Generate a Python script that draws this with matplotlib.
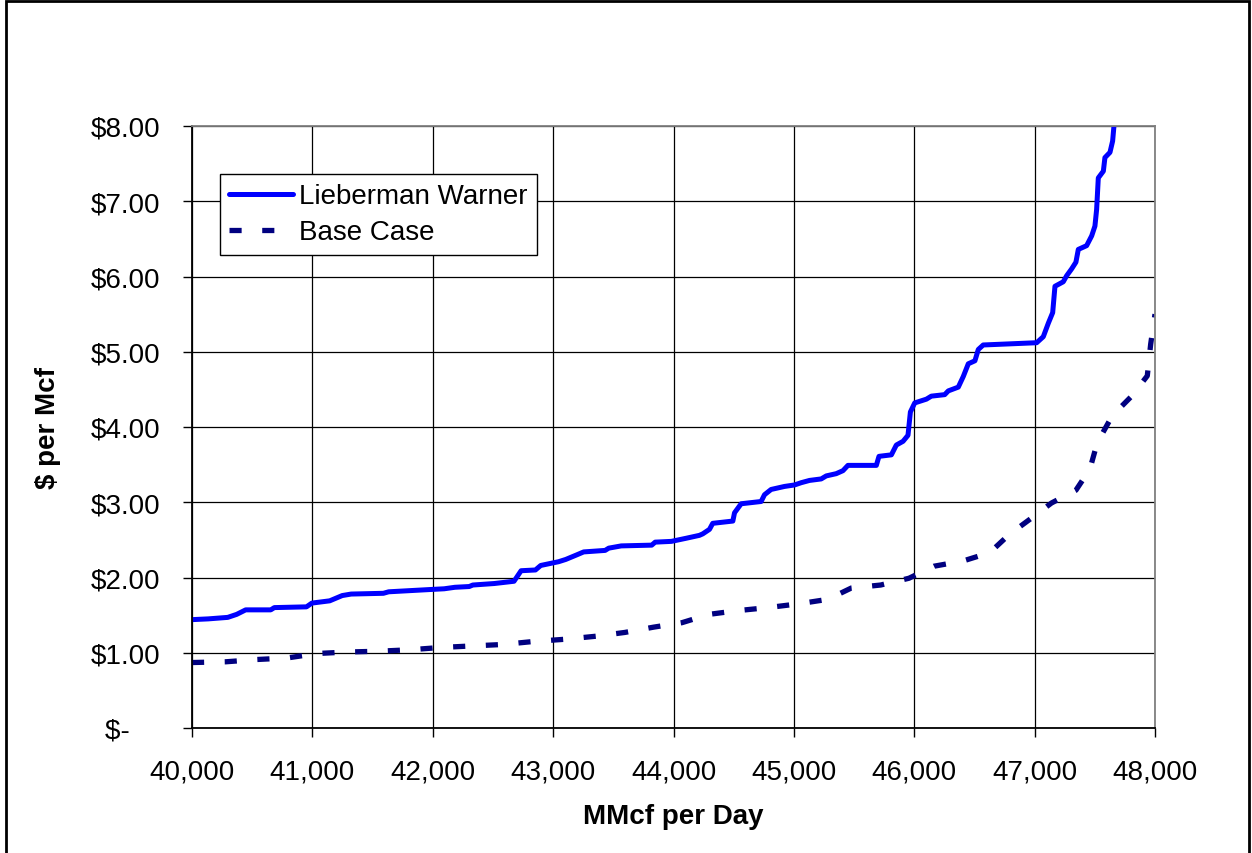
import numpy as np
import matplotlib.pyplot as plt
from matplotlib.patches import Rectangle
from matplotlib.ticker import FuncFormatter
plt.rcParams['font.family'] = ['Liberation Sans', 'DejaVu Sans']

# Lieberman Warner curve (MMcf per day, $ per Mcf)
lw_x = [40000, 40134, 40297, 40371, 40446, 40654, 40684, 40951, 40996, 41144,
        41248, 41322, 41590, 41634, 41976, 42095, 42184, 42303, 42333, 42511,
        42675, 42734, 42853, 42897, 43046, 43105, 43195, 43254, 43432, 43462,
        43566, 43819, 43848, 43982, 44101, 44215, 44243, 44299, 44326, 44493,
        44507, 44562, 44728, 44756, 44811, 44922, 45006, 45061, 45130, 45227,
        45269, 45352, 45408, 45449, 45685, 45707, 45810, 45851, 45907, 45948,
        45968, 46004, 46101, 46142, 46253, 46283, 46366, 46407, 46449, 46504,
        46532, 46573, 47017, 47072, 47114, 47150, 47169, 47238, 47266, 47307,
        47343, 47363, 47432, 47474, 47501, 47515, 47529, 47571, 47584, 47626,
        47648, 47659, 47672]
lw_y = [1.44, 1.45, 1.47, 1.51, 1.57, 1.57, 1.60, 1.61, 1.66, 1.69,
        1.76, 1.78, 1.79, 1.81, 1.84, 1.85, 1.87, 1.88, 1.90, 1.92,
        1.95, 2.09, 2.10, 2.16, 2.21, 2.24, 2.30, 2.34, 2.36, 2.39,
        2.42, 2.43, 2.47, 2.48, 2.52, 2.56, 2.58, 2.64, 2.72, 2.75,
        2.86, 2.98, 3.01, 3.10, 3.17, 3.21, 3.23, 3.26, 3.29, 3.31,
        3.35, 3.38, 3.42, 3.49, 3.49, 3.61, 3.63, 3.76, 3.81, 3.89,
        4.20, 4.32, 4.37, 4.41, 4.43, 4.48, 4.53, 4.67, 4.84, 4.88,
        5.03, 5.09, 5.12, 5.20, 5.38, 5.52, 5.87, 5.93, 6.01, 6.10,
        6.19, 6.36, 6.41, 6.54, 6.67, 6.89, 7.31, 7.40, 7.58, 7.65,
        7.80, 8.00, 8.30]

# Base Case curve
bc_x = [40000, 40282, 40535, 40788, 41040, 41293, 41545, 41813, 42065, 42318,
        42585, 42838, 43105, 43358, 43596, 43834, 44071, 44294, 44534, 44784,
        45039, 45283, 45477, 45721, 45956, 46164, 46406, 46627, 46788, 46966,
        47140, 47343, 47459, 47520, 47645, 47806, 47936, 47964, 48000]
bc_y = [0.87, 0.88, 0.91, 0.93, 0.99, 1.01, 1.02, 1.04, 1.07, 1.09,
        1.11, 1.15, 1.18, 1.22, 1.27, 1.34, 1.40, 1.51, 1.56, 1.60,
        1.65, 1.71, 1.86, 1.90, 1.99, 2.15, 2.22, 2.33, 2.57, 2.78,
        2.99, 3.16, 3.44, 3.79, 4.15, 4.41, 4.68, 5.10, 5.50]

x_ticks = np.arange(40000, 48001, 1000)
y_ticks = np.arange(0, 9, 1)

W, H = 1252, 854
fig = plt.figure(figsize=(W / 100, H / 100), dpi=100)
# chart area border (left, top, right edges visible)
fig.add_artist(Rectangle((6 / W, -0.05), (1249 - 6) / W, 1.05 - 1.5 / H,
                         transform=fig.transFigure, fill=False,
                         edgecolor='black', linewidth=2, clip_on=False))
ax = fig.add_axes([192 / W, 1 - 729 / H, (1155 - 192) / W, (729 - 127) / H])

ax.plot(lw_x, lw_y, color='#0000FF', linewidth=3.6, label='Lieberman Warner',
        solid_joinstyle='round', solid_capstyle='round')
ax.plot(bc_x, bc_y, color='#000080', linewidth=3.8, label='Base Case',
        linestyle=(0, (2.3, 3.9)), dash_capstyle='butt')

ax.set_xlim(40000, 48000)
ax.set_ylim(0, 8)
ax.set_xticks(x_ticks)
ax.set_yticks(y_ticks)
ax.xaxis.set_major_formatter(FuncFormatter(lambda v, p: f'{int(v):,}'))
ax.yaxis.set_major_formatter(
    FuncFormatter(lambda v, p: '$-\u2007\u2007' if v == 0 else f'${v:.2f}'))
ax.tick_params(axis='both', direction='out', length=6.5, width=1,
               labelsize=20, color='black')
ax.tick_params(axis='x', pad=15.5)
ax.tick_params(axis='y', pad=16.5)

ax.grid(True, color='black', linewidth=0.9)
ax.set_axisbelow(True)
for s in ['top', 'right']:
    ax.spines[s].set_color('#808080')
    ax.spines[s].set_linewidth(1.3)
for s in ['left', 'bottom']:
    ax.spines[s].set_color('black')
    ax.spines[s].set_linewidth(1.3)

ax.set_xlabel('MMcf per Day', fontsize=20, fontweight='bold')
ax.set_ylabel('$ per Mcf', fontsize=20, fontweight='bold')
ax.xaxis.set_label_coords(0.5, (729 - 804) / (729 - 127))
ax.yaxis.set_label_coords((61 - 192) / (1155 - 192), 0.5)

leg = ax.legend(loc='upper left', bbox_to_anchor=(28 / 963, (729 - 175) / 602),
                borderaxespad=0, fontsize=20, handlelength=2.3,
                handletextpad=0.22, labelspacing=0.36, borderpad=0.34,
                fancybox=False, framealpha=1, edgecolor='black')
leg.get_frame().set_linewidth(1)

fig.savefig('out.png', dpi=100)
